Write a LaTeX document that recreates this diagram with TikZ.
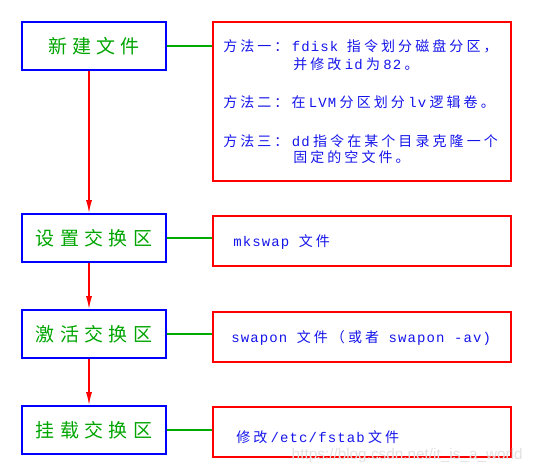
\documentclass[tikz,border=0pt]{standalone}
\usepackage{fontspec}
\usetikzlibrary{arrows.meta}
\newfontfamily\lcjk{Noto Sans CJK SC}[LetterSpace=28]
\newfontfamily\scjk{Noto Sans CJK SC}[LetterSpace=22]
\newfontfamily\smono{Liberation Mono}[LetterSpace=8]
\newfontfamily\wmfont{Liberation Sans}
\newcommand{\lblfont}{\lcjk\fontsize{14.25}{16}\selectfont}
\newcommand{\zh}[1]{{\scjk\fontsize{10.5}{12}\selectfont #1}}
\newcommand{\en}[1]{{\smono\fontsize{10.5}{12}\selectfont #1}}
\newcommand{\enp}[1]{\hspace{2.5pt}\en{#1}\hspace{2.5pt}}
\definecolor{boxblue}{RGB}{0,0,255}
\definecolor{labgreen}{RGB}{0,165,0}
\definecolor{lgreen}{RGB}{0,170,0}
\definecolor{txtblue}{RGB}{20,20,235}
\definecolor{boxred}{RGB}{255,0,0}
\definecolor{wmgray}{RGB}{225,225,225}
\begin{document}
\begin{tikzpicture}[x=0.75pt,y=-0.75pt,
  lbox/.style={draw=boxblue, line width=1.2pt, minimum width=108pt, minimum height=36pt, inner sep=0pt, text=labgreen, font=\lblfont},
  rbox/.style={draw=boxred, line width=1.2pt, minimum width=223.5pt, inner sep=0pt},
  txt/.style={anchor=west, inner sep=0pt, text=txtblue},
  link/.style={draw=lgreen, line width=1.3pt},
  flow/.style={draw=boxred, line width=1.1pt, -{Latex[length=9.75pt,width=4.5pt]}}]
\useasboundingbox (0,0) rectangle (533,475);

% left boxes
\node[lbox] (b1) at (94,46) {新建文件};
\node[lbox] (b2) at (94,238) {设置交换区};
\node[lbox] (b3) at (94,334) {激活交换区};
\node[lbox] (b4) at (94,430) {挂载交换区};

% right boxes
\node[rbox, minimum height=119.25pt] (r1) at (362,101.5) {};
\node[rbox, minimum height=37.5pt] (r2) at (362,241) {};
\node[rbox, minimum height=37.5pt] (r3) at (362,337) {};
\node[rbox, minimum height=37.5pt] (r4) at (362,432) {};

% texts in right boxes
\node[txt] (t1) at (223,46) {\zh{方法一：}\enp{fdisk}\hspace{4pt}\zh{指令划分磁盘分区，}};
\node[txt] (t2) at (293,64) {\zh{并修改}\enp{id}\zh{为}\enp{82}\zh{。}};
\node[txt] (t3) at (223,102) {\zh{方法二：在}\enp{LVM}\zh{分区划分}\enp{lv}\zh{逻辑卷。}};
\node[txt] (t4) at (223,141) {\zh{方法三：}\enp{dd}\zh{指令在某个目录克隆一个}};
\node[txt] (t5) at (293,157) {\zh{固定的空文件。}};
\node[txt] (t6) at (233,242) {\en{mkswap\ }\zh{文件}};
\node[txt] (t7) at (231,338) {\en{swapon\ }\zh{文件（或者}\en{\ swapon -av)}};
\node[txt] (t8) at (236,437) {\zh{修改}\enp{/etc/fstab}\zh{文件}};

% green links
\draw[link] (b1.east) -- (b1.east -| r1.west);
\draw[link] (b2.east) -- (b2.east -| r2.west);
\draw[link] (b3.east) -- (b3.east -| r3.west);
\draw[link] (b4.east) -- (b4.east -| r4.west);

% red flow arrows
\draw[flow] ([xshift=-3.75pt]b1.south) -- ([xshift=-3.75pt]b2.north);
\draw[flow] ([xshift=-3.75pt]b2.south) -- ([xshift=-3.75pt]b3.north);
\draw[flow] ([xshift=-3.75pt]b3.south) -- ([xshift=-3.75pt]b4.north);

% watermark
\node[anchor=base east, inner sep=0pt, text=wmgray, font=\wmfont\fontsize{11.5}{13}\selectfont] (wm) at (523,459) {https://blog.csdn.net/it\_is\_a\_world};
\end{tikzpicture}
\end{document}
